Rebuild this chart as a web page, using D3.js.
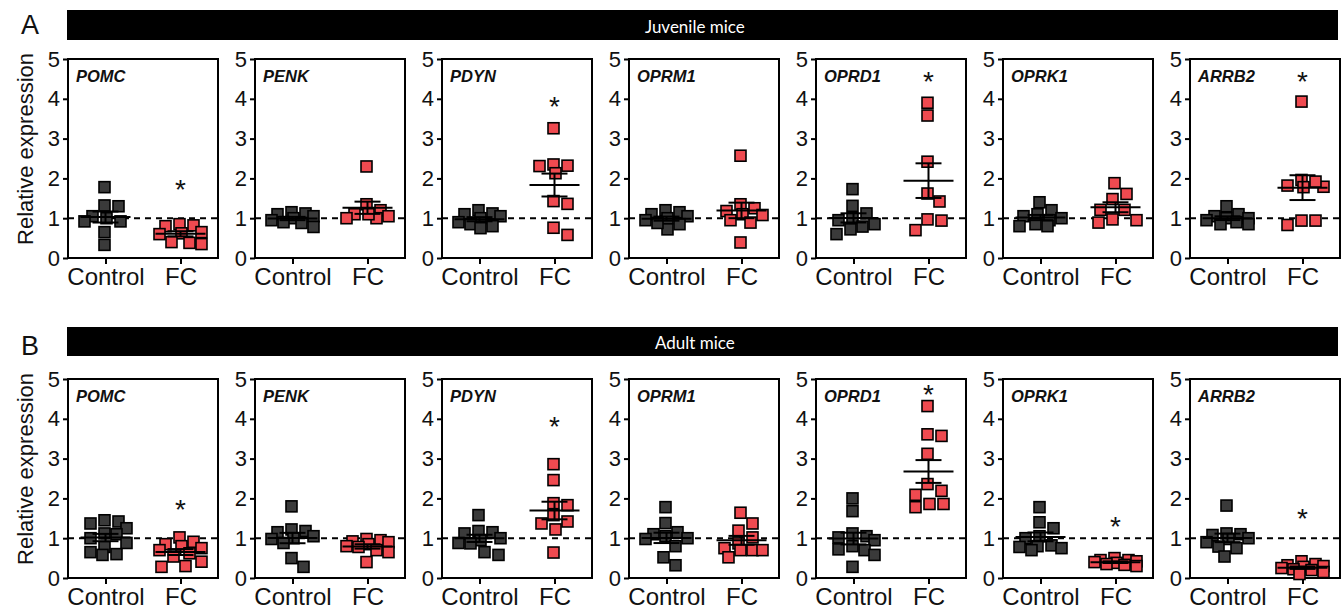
<!DOCTYPE html>
<html>
<head>
<meta charset="utf-8">
<script src="https://cdn.jsdelivr.net/npm/d3@7"></script>
<style>
  html, body { margin: 0; padding: 0; background: #fff; }
  svg { display: block; }
</style>
</head>
<body>
<svg id="chart" width="1344" height="616"></svg>
<script>
// ---------------- DATA ----------------
const genes = ["POMC", "PENK", "PDYN", "OPRM1", "OPRD1", "OPRK1", "ARRB2"];
const groups = ["Control", "FC"];
const yTicks = [0, 1, 2, 3, 4, 5];
const rowTitles = ["Juvenile mice", "Adult mice"];
const rowLetters = ["A", "B"];

const juvenileControl = [
  [1.78, 1.30, 1.32, 0.92, 1.00, 1.05, 0.92, 0.65, 0.33],
  [1.15, 1.10, 1.12, 1.05, 1.00, 0.95, 0.90, 0.78, 0.88],
  [1.20, 1.10, 1.12, 1.05, 1.00, 0.90, 0.85, 0.75, 0.80],
  [1.20, 1.15, 1.10, 1.05, 1.00, 0.95, 0.85, 0.72, 0.88],
  [1.73, 1.31, 1.12, 1.00, 0.95, 0.79, 0.72, 0.60, 0.85],
  [1.40, 1.20, 1.10, 1.05, 1.00, 0.95, 0.85, 0.80, 0.80],
  [1.30, 1.10, 1.05, 1.00, 1.00, 0.95, 0.90, 0.85, 0.85]
];
const juvenileFC = [
  [0.85, 0.82, 0.80, 0.65, 0.62, 0.60, 0.40, 0.35, 0.38],
  [2.30, 1.35, 1.20, 1.10, 1.05, 1.00, 1.00, 1.10],
  [3.26, 2.32, 2.35, 2.31, 2.13, 1.43, 1.36, 0.76, 0.58],
  [2.57, 1.35, 1.25, 1.18, 1.10, 1.08, 0.95, 0.89, 0.39],
  [3.90, 3.58, 2.42, 1.62, 1.42, 0.97, 0.94, 0.70],
  [1.88, 1.61, 1.48, 1.21, 1.21, 0.97, 0.95, 0.89],
  [3.93, 1.79, 1.92, 1.96, 1.82, 1.78, 0.94, 0.83, 0.94]
];
const adultControl = [
  [1.45, 1.42, 1.37, 1.25, 1.12, 1.10, 1.00, 0.88, 0.78, 0.65, 0.60, 0.58],
  [1.80, 1.22, 1.18, 1.15, 1.05, 1.00, 0.98, 0.88, 0.50, 0.28],
  [1.58, 1.18, 1.15, 1.12, 1.00, 0.95, 0.88, 0.87, 0.65, 0.58],
  [1.78, 1.38, 1.15, 1.10, 1.05, 1.00, 0.98, 0.80, 0.52, 0.32],
  [2.00, 1.68, 1.12, 1.05, 1.02, 0.95, 0.80, 0.72, 0.70, 0.58, 0.28],
  [1.78, 1.40, 1.25, 1.05, 1.00, 0.82, 0.80, 0.78, 0.75, 0.70],
  [1.82, 1.12, 1.10, 1.08, 1.00, 0.98, 0.90, 0.79, 0.75, 0.54]
];
const adultFC = [
  [1.02, 0.91, 0.85, 0.80, 0.75, 0.70, 0.62, 0.54, 0.41, 0.30, 0.28],
  [0.98, 0.95, 0.92, 0.90, 0.85, 0.80, 0.78, 0.70, 0.65, 0.40],
  [2.86, 2.46, 1.88, 1.83, 1.58, 1.37, 1.42, 1.22, 0.64],
  [1.64, 1.37, 1.19, 1.02, 0.87, 0.75, 0.70, 0.70, 0.70, 0.52],
  [4.32, 3.61, 3.57, 3.12, 2.36, 2.19, 2.09, 1.86, 1.78, 1.86],
  [0.50, 0.45, 0.45, 0.42, 0.40, 0.38, 0.35, 0.33, 0.30],
  [0.42, 0.35, 0.32, 0.30, 0.28, 0.25, 0.22, 0.20, 0.15, 0.10]
];
// y-value at which a significance asterisk is drawn above the FC group (null = none)
const juvenileSig = [1.88, null, 3.97, null, 4.60, null, 4.60];
const adultSig    = [1.88, null, 3.97, null, 4.77, 1.46, 1.67];

// ---------------- LAYOUT ----------------
const svg = d3.select("#chart");
const FONT = "'Liberation Sans', Arial, Helvetica, sans-serif";
const ctrlFill = "#3a3a3a";
const fcFill = "#ef4a50";

const rows = [
  { control: juvenileControl, fc: juvenileFC, sig: juvenileSig, top: 59, barY: 10, barH: 30, letterY: 34 },
  { control: adultControl, fc: adultFC, sig: adultSig, top: 379, barY: 327, barH: 29, letterY: 355 }
];
const plotH = 199;

const xPanel = d3.scaleBand().domain(genes).range([68, 1340]).paddingInner(37 / 187).paddingOuter(0);
const pw = xPanel.bandwidth();
const xGroup = d3.scalePoint().domain(groups).range([0, pw]).padding(0.5);

const SQ = 11;

// compact beeswarm: keep points within a limited spread, minimising overlap
function swarm(values, y) {
  const pts = values.map(v => ({ v, y: y(v), x: 0 }));
  const order = pts.slice().sort((a, b) => b.v - a.v);
  const placed = [];
  const S = SQ + 1.5, maxOff = 21, step = 2;
  for (const p of order) {
    let best = 0, bestScore = Infinity;
    for (let off = -maxOff; off <= maxOff; off += step) {
      let ov = 0;
      for (const q of placed) {
        const ox = Math.max(0, S - Math.abs(q.x - off));
        const oy = Math.max(0, S - Math.abs(q.y - p.y));
        ov += ox * oy;
      }
      const score = ov + 1.2 * Math.abs(off);
      if (score < bestScore - 1e-9) { bestScore = score; best = off; }
    }
    p.x = best;
    placed.push(p);
  }
  return pts;
}

rows.forEach((row, ri) => {
  const y = d3.scaleLinear().domain([0, 5]).range([row.top + plotH, row.top]);

  // header bar
  svg.append("rect").attr("x", 67).attr("y", row.barY).attr("width", 1338 - 67).attr("height", row.barH).attr("fill", "#000");
  svg.append("text").attr("x", 67 + (1338 - 67) * 0.494).attr("y", row.barY + row.barH / 2 + 1)
    .attr("text-anchor", "middle").attr("dominant-baseline", "central")
    .attr("font-family", "Lato, 'Open Sans', sans-serif").attr("font-size", 17).attr("fill", "#fff")
    .text(rowTitles[ri]);
  svg.append("text").attr("x", 21).attr("y", row.letterY).attr("font-family", FONT).attr("font-size", 27)
    .attr("fill", "#111").text(rowLetters[ri]);

  // y label
  svg.append("text").attr("transform", `translate(33,${row.top + 90}) rotate(-90)`)
    .attr("text-anchor", "middle").attr("font-family", FONT).attr("font-size", 22).attr("fill", "#111")
    .text("Relative expression");

  genes.forEach((g, gi) => {
    const gx = xPanel(g);
    const p = svg.append("g").attr("transform", `translate(${gx},0)`);

    // y axis
    const ya = p.append("g").call(d3.axisLeft(y).tickValues(yTicks).tickSize(5).tickPadding(3).tickFormat(d3.format("d")));
    ya.select(".domain").remove();
    ya.selectAll(".tick line").attr("stroke", "#000").attr("stroke-width", 2);
    ya.selectAll(".tick text").attr("font-family", FONT).attr("font-size", 22).attr("fill", "#111");

    // x axis
    const xa = p.append("g").attr("transform", `translate(0,${row.top + plotH})`)
      .call(d3.axisBottom(xGroup).tickSize(6).tickPadding(4));
    xa.select(".domain").remove();
    xa.selectAll(".tick line").attr("stroke", "#000").attr("stroke-width", 2);
    xa.selectAll(".tick text").attr("font-family", FONT).attr("font-size", 24).attr("fill", "#111");

    // dashed reference line at 1
    p.append("line").attr("x1", 0).attr("x2", pw).attr("y1", y(1)).attr("y2", y(1))
      .attr("stroke", "#000").attr("stroke-width", 2).attr("stroke-dasharray", "6,5");

    // frame
    p.append("rect").attr("x", 0).attr("y", row.top).attr("width", pw).attr("height", plotH)
      .attr("fill", "none").attr("stroke", "#000").attr("stroke-width", 2);

    // gene label
    p.append("text").attr("x", 8).attr("y", row.top + 23).attr("font-family", FONT)
      .attr("font-size", 16.5).attr("font-weight", "bold").attr("font-style", "italic").attr("fill", "#111").text(g);

    const sets = [{ grp: "Control", vals: row.control[gi], fill: ctrlFill }, { grp: "FC", vals: row.fc[gi], fill: fcFill }];
    sets.forEach(s => {
      const cx = xGroup(s.grp);
      const pts = swarm(s.vals, y);
      p.append("g").selectAll("rect").data(pts).join("rect")
        .attr("x", d => cx + d.x - SQ / 2).attr("y", d => d.y - SQ / 2)
        .attr("width", SQ).attr("height", SQ)
        .attr("fill", s.fill).attr("stroke", "#000").attr("stroke-width", 1.6);

      const m = d3.mean(s.vals);
      const sem = d3.deviation(s.vals) / Math.sqrt(s.vals.length);
      const eg = p.append("g").attr("stroke", "#000").attr("stroke-width", 2);
      eg.append("line").attr("x1", cx - 25).attr("x2", cx + 25).attr("y1", y(m)).attr("y2", y(m));
      eg.append("line").attr("x1", cx).attr("x2", cx).attr("y1", y(m - sem)).attr("y2", y(m + sem));
      eg.append("line").attr("x1", cx - 13).attr("x2", cx + 13).attr("y1", y(m + sem)).attr("y2", y(m + sem));
      eg.append("line").attr("x1", cx - 13).attr("x2", cx + 13).attr("y1", y(m - sem)).attr("y2", y(m - sem));
    });

    if (row.sig[gi] != null) {
      p.append("text").attr("x", xGroup("FC")).attr("y", y(row.sig[gi]) + 16)
        .attr("text-anchor", "middle").attr("font-family", FONT).attr("font-size", 28).attr("fill", "#111").text("*");
    }
  });
});
</script>
</body>
</html>
